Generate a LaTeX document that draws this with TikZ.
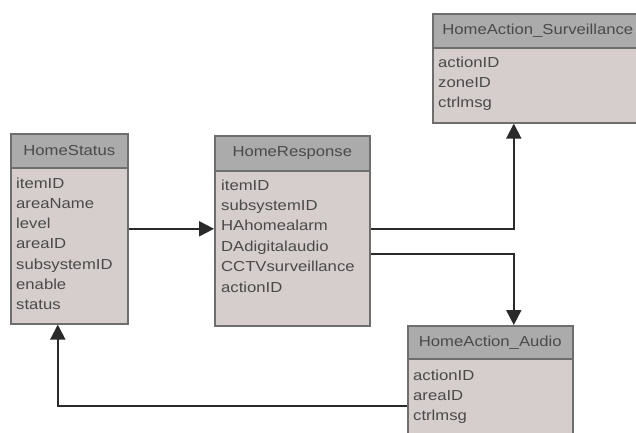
\documentclass[tikz,border=0pt]{standalone}
\usepackage{fontspec}
\setmainfont{Liberation Sans}
\usetikzlibrary{arrows.meta}
\definecolor{hdrfill}{HTML}{ABABAB}
\definecolor{bodyfill}{HTML}{D6CDCD}
\definecolor{bordercol}{HTML}{6E6E6E}
\definecolor{txtcol}{HTML}{4A4A4A}
\definecolor{conncol}{HTML}{2A2A2A}
\newcommand{\sx}[1]{\scalebox{1.15}[1]{#1}}
\tikzset{
  classbody/.style={draw=bordercol, fill=bodyfill, line width=1.6pt, rectangle, inner sep=0pt, anchor=north west},
  classhead/.style={draw=bordercol, fill=hdrfill, line width=1.6pt, rectangle, inner sep=0pt, anchor=north west, text=txtcol, font=\fontsize{14.5}{17}\selectfont},
  attr/.style={anchor=base west, inner sep=0pt, text=txtcol, font=\fontsize{14.5}{17}\selectfont},
  conn/.style={draw=conncol, line width=2pt, -{Triangle[length=15pt,width=15pt]}},
}
\begin{document}
\begin{tikzpicture}[x=1pt,y=-1pt]
\useasboundingbox (0,0) rectangle (636,432);
\clip (0,0) rectangle (636,432);
\fill[white] (0,0) rectangle (636,432);

% HomeStatus
\node[classbody, minimum width=117pt, minimum height=190pt] (hs) at (10,133) {};
\node[classhead, minimum width=117pt, minimum height=34pt] (hsh) at (hs.north west) {\sx{HomeStatus}};
\foreach \t [count=\i] in {itemID,areaName,level,areaID,subsystemID,enable,status}
  \node[attr] (hsa\i) at ({16},{188+20.3*(\i-1)}) {\sx{\t}};

% HomeResponse
\node[classbody, minimum width=155pt, minimum height=190pt] (hr) at (214,135) {};
\node[classhead, minimum width=155pt, minimum height=35pt] (hrh) at (hr.north west) {\sx{HomeResponse}};
\foreach \t [count=\i] in {itemID,subsystemID,HAhomealarm,DAdigitalaudio,CCTVsurveillance,actionID}
  \node[attr] (hra\i) at ({221},{190+20.4*(\i-1)}) {\sx{\t}};

% HomeAction_Surveillance
\node[classbody, minimum width=210pt, minimum height=109pt] (hsv) at (432,13) {};
\node[classhead, minimum width=210pt, minimum height=34pt] (hsvh) at (hsv.north west) {\sx{HomeAction\_Surveillance}};
\foreach \t [count=\i] in {actionID,zoneID,ctrlmsg}
  \node[attr] (hsva\i) at ({438},{67+20*(\i-1)}) {\sx{\t}};

% HomeAction_Audio
\node[classbody, minimum width=165pt, minimum height=115pt] (ha) at (407,325) {};
\node[classhead, minimum width=165pt, minimum height=33pt] (hah) at (ha.north west) {\sx{HomeAction\_Audio}};
\foreach \t [count=\i] in {actionID,areaID,ctrlmsg}
  \node[attr] (haa\i) at ({413},{380+20*(\i-1)}) {\sx{\t}};

% connectors
\draw[conn] (hs.east) -- (hs.east -| hr.west);
\draw[conn] ([yshift=2pt]hr.east) -| ([xshift=-24pt]hsv.south);
\draw[conn] ([yshift=-23pt]hr.east) -| ([xshift=23.5pt]ha.north);
\draw[conn] ([yshift=-22.5pt]ha.west) -| ([xshift=-11.5pt]hs.south);
\end{tikzpicture}
\end{document}
